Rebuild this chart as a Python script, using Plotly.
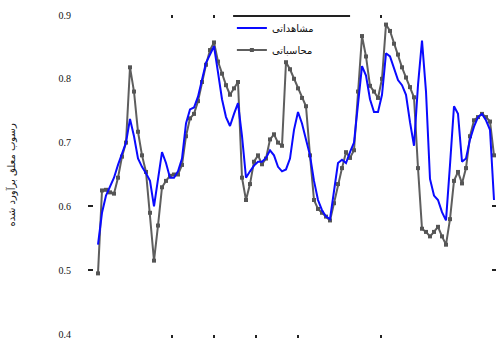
import plotly.graph_objects as go

# sample index (one reading per step)
steps = list(range(100))

# observed values
observed = [
    0.54, 0.59, 0.617, 0.63, 0.645, 0.665, 0.682, 0.70, 0.737, 0.71,
    0.675, 0.662, 0.652, 0.64, 0.60, 0.64, 0.685, 0.668, 0.645, 0.645,
    0.655, 0.675, 0.73, 0.752, 0.755, 0.772, 0.80, 0.825, 0.838, 0.851,
    0.81, 0.768, 0.74, 0.726, 0.745, 0.762, 0.71, 0.645, 0.655, 0.664,
    0.67, 0.67, 0.676, 0.688, 0.68, 0.662, 0.655, 0.658, 0.675, 0.72,
    0.748, 0.73, 0.705, 0.68, 0.64, 0.61, 0.594, 0.584, 0.58, 0.628,
    0.668, 0.673, 0.668, 0.685, 0.70, 0.76, 0.82, 0.805, 0.768, 0.748,
    0.748, 0.775, 0.84, 0.835, 0.815, 0.798, 0.79, 0.775, 0.732, 0.695,
    0.79, 0.86, 0.78, 0.643, 0.617, 0.61, 0.591, 0.578, 0.665, 0.757,
    0.745, 0.67, 0.675, 0.705, 0.725, 0.74, 0.745, 0.735, 0.72, 0.61,
]

# computed values
computed = [
    0.495, 0.625, 0.626, 0.622, 0.62, 0.645, 0.678, 0.70, 0.818, 0.78,
    0.717, 0.68, 0.654, 0.59, 0.515, 0.57, 0.63, 0.64, 0.648, 0.65,
    0.65, 0.665, 0.71, 0.738, 0.745, 0.765, 0.795, 0.822, 0.845, 0.857,
    0.827, 0.808, 0.79, 0.775, 0.785, 0.795, 0.645, 0.61, 0.635, 0.67,
    0.68, 0.666, 0.675, 0.705, 0.713, 0.70, 0.695, 0.826, 0.815, 0.80,
    0.785, 0.77, 0.757, 0.68, 0.61, 0.596, 0.59, 0.584, 0.578, 0.605,
    0.635, 0.66, 0.685, 0.676, 0.688, 0.78, 0.867, 0.835, 0.789, 0.78,
    0.77, 0.80, 0.885, 0.875, 0.855, 0.838, 0.818, 0.802, 0.787, 0.771,
    0.66, 0.565, 0.56, 0.553, 0.56, 0.568, 0.553, 0.54, 0.58, 0.64,
    0.654, 0.636, 0.66, 0.71, 0.735, 0.74, 0.745, 0.74, 0.733, 0.68,
]

y_ticks = [0.4, 0.5, 0.6, 0.7, 0.8, 0.9]
y_ticktext = ["0.4", "0.5", "0.6", "0.7", "0.8", "0.9"]

name_observed = "مشاهداتی"
name_computed = "محاسباتی"
y_title = "رسوب معلق برآورد شده"

fig = go.Figure()

fig.add_trace(go.Scatter(
    x=steps, y=computed, name=name_computed, mode="lines+markers",
    line=dict(color="#5e5e5e", width=2),
    marker=dict(symbol="square", size=4, color="#555555"),
    legendgroup="b", legendrank=2,
))
fig.add_trace(go.Scatter(
    x=steps, y=observed, name=name_observed, mode="lines",
    line=dict(color="#0a0aff", width=2),
    legendgroup="a", legendrank=1,
))

x_range = [-1, 99.5]
y_range = [0.4, 0.9]
tick_col = "#222222"

fig.update_layout(
    width=496, height=339,
    margin=dict(l=94, r=0, t=15, b=5),
    paper_bgcolor="white", plot_bgcolor="white",
    showlegend=True,
    legend=dict(
        x=0.343, y=1.005, xanchor="left", yanchor="top",
        bgcolor="rgba(0,0,0,0)", traceorder="grouped",
        tracegroupgap=3,
        font=dict(family="DejaVu Sans", size=10, color="#111111"),
    ),
    xaxis=dict(
        range=x_range, showgrid=False, zeroline=False, showline=False,
        ticks="outside", ticklen=3, tickwidth=1.5, tickcolor=tick_col,
        tickvals=[18.5, 29, 39.5, 50, 70.75], showticklabels=False,
    ),
    xaxis2=dict(
        range=x_range, overlaying="x", side="top", showgrid=False,
        zeroline=False, showline=False, ticks="inside", ticklen=3,
        tickwidth=1.5, tickcolor=tick_col, tickvals=[18.5, 29, 70.75],
        showticklabels=False,
    ),
    yaxis=dict(
        range=y_range, showgrid=False, zeroline=False, showline=False,
        tickvals=y_ticks, ticktext=y_ticktext, ticks="",
        ticklabelstandoff=22, ticklabeloverflow="allow",
        tickfont=dict(family="Liberation Serif", size=10, color="#111111"),
    ),
    yaxis2=dict(
        range=y_range, overlaying="y", side="left", showgrid=False,
        zeroline=False, showline=False, ticks="outside", ticklen=5,
        tickwidth=1.5, tickcolor=tick_col, tickvals=[0.5, 0.6],
        showticklabels=False,
    ),
    yaxis3=dict(
        range=y_range, overlaying="y", side="right", showgrid=False,
        zeroline=False, showline=False, ticks="inside", ticklen=4,
        tickwidth=1.5, tickcolor=tick_col, tickvals=[0.5, 0.6],
        showticklabels=False,
    ),
    annotations=[dict(
        text=y_title, textangle=-90, x=-0.204, y=0.5,
        xref="paper", yref="paper", xanchor="center", yanchor="middle",
        showarrow=False,
        font=dict(family="DejaVu Sans", size=10, color="#111111"),
    )],
    shapes=[dict(
        type="line", xref="paper", yref="paper",
        x0=0.346, x1=0.637, y0=0.997, y1=0.997,
        line=dict(color="#222222", width=2),
    )],
)

# invisible helpers so the extra tick axes are drawn
fig.add_trace(go.Scatter(x=[None], y=[None], xaxis="x2", yaxis="y2",
                         showlegend=False, hoverinfo="skip"))
fig.add_trace(go.Scatter(x=[None], y=[None], xaxis="x", yaxis="y3",
                         showlegend=False, hoverinfo="skip"))

fig.write_html("out.html")
